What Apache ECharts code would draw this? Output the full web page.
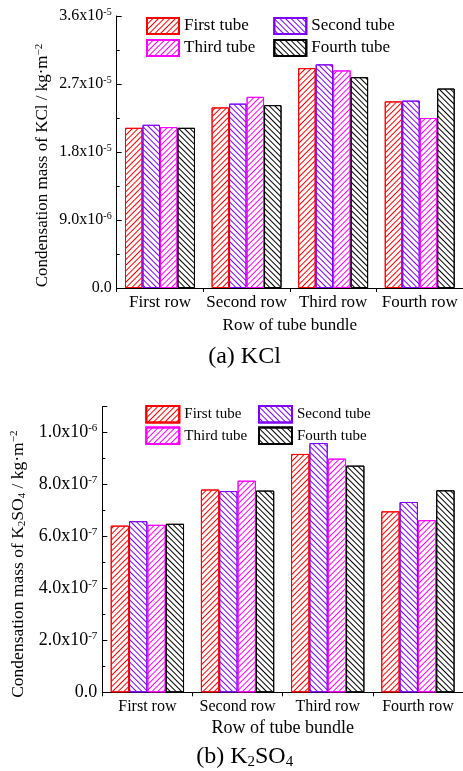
<!DOCTYPE html>
<html>
<head>
<meta charset="utf-8">
<script src="https://cdn.jsdelivr.net/npm/echarts@6/dist/echarts.min.js"></script>
<style>html,body{margin:0;padding:0;background:#fff}#c{width:463px;height:771px}</style>
</head>
<body>
<div id="c"></div>
<script>
const categories = ['First row', 'Second row', 'Third row', 'Fourth row'];
const tubeNames = ['First tube', 'Second tube', 'Third tube', 'Fourth tube'];

// (a) KCl condensation mass, kg/m^2
const kclFirstTube  = [2.12e-5, 2.39e-5, 2.91e-5, 2.47e-5];
const kclSecondTube = [2.16e-5, 2.44e-5, 2.96e-5, 2.48e-5];
const kclThirdTube  = [2.13e-5, 2.53e-5, 2.88e-5, 2.25e-5];
const kclFourthTube = [2.12e-5, 2.42e-5, 2.79e-5, 2.64e-5];

// (b) K2SO4 condensation mass, kg/m^2
const k2so4FirstTube  = [6.42e-7, 7.81e-7, 9.18e-7, 6.97e-7];
const k2so4SecondTube = [6.59e-7, 7.75e-7, 9.60e-7, 7.33e-7];
const k2so4ThirdTube  = [6.45e-7, 8.15e-7, 9.00e-7, 6.63e-7];
const k2so4FourthTube = [6.49e-7, 7.77e-7, 8.73e-7, 7.78e-7];

const FONT = 'Liberation Serif';
const colors = ['#ff0000', '#7f00ff', '#ff00ff', '#000000'];
const hatchRot = [-Math.PI / 4, Math.PI / 4, -Math.PI / 4, Math.PI / 4];

function sciLabel(v) {
  if (Math.abs(v) < 1e-15) return '{m|0.0}';
  let e = Math.floor(Math.log10(v) + 1e-9);
  let m = v / Math.pow(10, e);
  if (m >= 9.95) { m /= 10; e += 1; }
  return '{m|' + m.toFixed(1) + 'x10}{s|' + e + '}';
}

function makeSeries(data, i, axisIdx) {
  return {
    type: 'bar',
    name: tubeNames[i],
    xAxisIndex: axisIdx,
    yAxisIndex: axisIdx,
    data: data,
    barGap: '0%',
    barCategoryGap: axisIdx === 0 ? '19.2%' : '18.7%',
    itemStyle: {
      color: '#ffffff',
      borderColor: colors[i],
      borderWidth: 1,
      decal: {
        symbol: 'rect',
        symbolSize: 1,
        color: colors[i],
        backgroundColor: null,
        dashArrayX: [[1, 0]],
        dashArrayY: [1, 3],
        rotation: hatchRot[i]
      }
    },
    emphasis: { disabled: true }
  };
}

function yAxisCfg(grid, max, interval, labelSize, showMax) {
  return {
    type: 'value', gridIndex: grid, min: 0, max: max, interval: interval,
    splitLine: { show: false },
    axisLine: { show: true, lineStyle: { color: '#000', width: 1 } },
    axisTick: { show: true, inside: true, length: 5, lineStyle: { color: '#000' } },
    minorTick: { show: true, splitNumber: 2, length: 3, lineStyle: { color: '#000' } },
    axisLabel: {
      margin: 5, showMaxLabel: showMax,
      formatter: sciLabel,
      rich: {
        m: { fontFamily: FONT, fontSize: labelSize, color: '#000', lineHeight: labelSize + 2 },
        s: { fontFamily: FONT, fontSize: Math.round(labelSize * 0.62), color: '#000', verticalAlign: 'top', lineHeight: Math.round(labelSize * 0.62) }
      }
    }
  };
}

function xAxisCfg(grid, catSize, nameSize, nameGap) {
  return {
    type: 'category', gridIndex: grid, data: categories,
    name: 'Row of tube bundle', nameLocation: 'middle', nameGap: nameGap,
    nameTextStyle: { fontFamily: FONT, fontSize: nameSize, color: '#000' },
    axisLine: { show: true, lineStyle: { color: '#000', width: 1 } },
    axisTick: { show: true, inside: false, length: 4, alignWithLabel: false, lineStyle: { color: '#000' } },
    axisLabel: { margin: 6, fontFamily: FONT, fontSize: catSize, color: '#000', interval: 0 },
    splitLine: { show: false }
  };
}

function legendCfg(names, left, top, size, iw, ih, gap) {
  return {
    data: names, orient: 'vertical', left: left, top: top, padding: 0,
    itemWidth: iw, itemHeight: ih, itemGap: gap, icon: 'rect',
    selectedMode: false,
    textStyle: { fontFamily: FONT, fontSize: size, color: '#000' }
  };
}

const chart = echarts.init(document.getElementById('c'), null, { renderer: 'canvas' });
chart.setOption({
  animation: false,
  backgroundColor: '#fff',
  grid: [
    { left: 116.7, top: 16, right: 0, bottom: 483 },
    { left: 102.3, top: 406.7, right: 0, bottom: 78.7 }
  ],
  xAxis: [xAxisCfg(0, 17, 17, 29), xAxisCfg(1, 16, 18, 27)],
  yAxis: [yAxisCfg(0, 3.6e-5, 9e-6, 16, true), yAxisCfg(1, 1.1e-6, 2e-7, 18, false)],
  legend: [
    legendCfg([tubeNames[0], tubeNames[2]], 146, 17, 17, 32, 16, 4),
    legendCfg([tubeNames[1], tubeNames[3]], 273.3, 17, 17, 32, 16, 4),
    legendCfg([tubeNames[0], tubeNames[2]], 145.3, 405, 15, 33, 16.5, 3),
    legendCfg([tubeNames[1], tubeNames[3]], 258, 405, 15, 33, 16.5, 3)
  ],
  graphic: [
    { type: 'text', x: 42.7, y: 165.5, rotation: Math.PI / 2,
      style: { text: '{m|Condensation mass of KCl / kg·m}{s|−2}', align: 'center', verticalAlign: 'middle',
        rich: { m: { fontFamily: FONT, fontSize: 17, fill: '#000', lineHeight: 19 },
                s: { fontFamily: FONT, fontSize: 11, fill: '#000', verticalAlign: 'top', lineHeight: 11 } } } },
    { type: 'text', x: 18.3, y: 564.2, rotation: Math.PI / 2,
      style: { text: '{m|Condensation mass of K}{b|2}{m|SO}{b|4}{m| / kg·m}{s|−2}', align: 'center', verticalAlign: 'middle',
        rich: { m: { fontFamily: FONT, fontSize: 17.5, fill: '#000', lineHeight: 19 },
                b: { fontFamily: FONT, fontSize: 11, fill: '#000', verticalAlign: 'bottom', lineHeight: 11 },
                s: { fontFamily: FONT, fontSize: 11, fill: '#000', verticalAlign: 'top', lineHeight: 11 } } } },
    { type: 'text', x: 244.5, y: 357, style: { text: '(a) KCl', fontFamily: FONT, fontSize: 24, fill: '#000', align: 'center', verticalAlign: 'middle' } },
    { type: 'text', x: 244.7, y: 756.7,
      style: { text: '{m|(b) K}{b|2}{m|SO}{b|4}', align: 'center', verticalAlign: 'middle',
        rich: { m: { fontFamily: FONT, fontSize: 24, fill: '#000', lineHeight: 26 },
                b: { fontFamily: FONT, fontSize: 15, fill: '#000', verticalAlign: 'bottom', lineHeight: 15 } } } }
  ],
  series: [
    makeSeries(kclFirstTube, 0, 0), makeSeries(kclSecondTube, 1, 0),
    makeSeries(kclThirdTube, 2, 0), makeSeries(kclFourthTube, 3, 0),
    makeSeries(k2so4FirstTube, 0, 1), makeSeries(k2so4SecondTube, 1, 1),
    makeSeries(k2so4ThirdTube, 2, 1), makeSeries(k2so4FourthTube, 3, 1)
  ]
});
</script>
</body>
</html>
